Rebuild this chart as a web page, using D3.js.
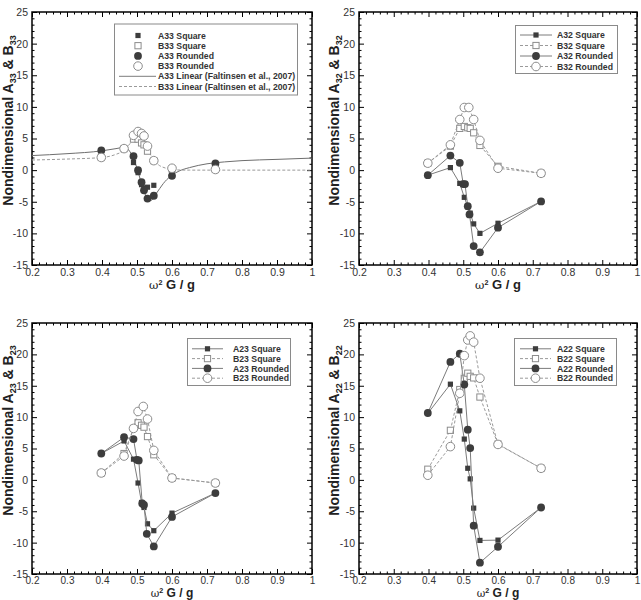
<!DOCTYPE html>
<html><head><meta charset="utf-8">
<script src="https://cdn.jsdelivr.net/npm/d3@7"></script>
<style>
html,body{margin:0;padding:0;background:#fff;}
svg{display:block;font-family:"Liberation Sans",Arial,Helvetica,sans-serif;}
</style></head>
<body>
<svg id="chart" width="641" height="600"></svg>
<script>
// ---------- DATA ----------
const xTicks = [0.2,0.3,0.4,0.5,0.6,0.7,0.8,0.9,1];
const xTickLabels = ["0.2","0.3","0.4","0.5","0.6","0.7","0.8","0.9","1"];
const yTicks = [-15,-10,-5,0,5,10,15,20,25];

const freq = [0.398,0.463,0.49,0.503,0.513,0.52,0.53,0.548,0.6,0.724];

// Panel 1: A33 / B33
const A33Square  = [3.0, 3.3, 1.2, -0.4, -2.3, -2.8, -2.7, -2.4, -0.7, 1.0];
const B33Square  = [2.0, 3.4, 4.9, 4.9, 4.3, 4.0, 3.0, 1.5, 0.2, 0.1];
const A33Rounded = [3.1, 3.4, 2.2, 0.0, -1.9, -3.2, -4.5, -4.05, -0.9, 1.05];
const B33Rounded = [2.0, 3.4, 5.5, 6.1, 5.8, 5.4, 3.8, 1.5, 0.3, 0.1];
const linA33x = [0.2,0.3,0.4,0.44,0.465,0.48,0.49,0.5,0.51,0.52,0.53,0.54,0.55,0.56,0.58,0.6,0.62,0.65,0.7,0.75,0.8,0.9,1.0];
const linA33y = [2.3,2.6,3.05,3.4,3.6,2.9,1.8,0.3,-1.6,-3.3,-4.6,-4.8,-4.1,-3.3,-1.8,-0.8,-0.15,0.4,1.0,1.3,1.5,1.7,1.9];
const linB33x = [0.2,0.3,0.4,0.44,0.465,0.48,0.49,0.5,0.51,0.52,0.53,0.54,0.55,0.56,0.58,0.6,0.62,0.65,0.7,0.8,0.9,1.0];
const linB33y = [1.6,1.75,2.0,2.5,3.2,4.2,4.9,5.4,5.3,4.6,3.4,2.3,1.5,0.9,0.35,0.1,0.02,0,0,0,0,0];

// Panel 2: A32 / B32
const A32Square  = [-0.8, 0.4, -2.1, -4.3, -5.8, -6.8, -8.5, -10.0, -8.4, -4.95];
const A32RoundedX = [0.398,0.463,0.49,0.5,0.505,0.513,0.518,0.53,0.548,0.6,0.724];
const A32Rounded = [-0.8, 2.3, 1.15, -2.2, -2.2, -5.7, -7.0, -12.0, -13.0, -9.1, -4.95];
const B32Square  = [1.1, 3.8, 6.6, 6.9, 6.7, 6.6, 5.9, 3.9, 0.6, -0.5];
const B32RoundedX = [0.398,0.463,0.49,0.503,0.516,0.53,0.548,0.6,0.724];
const B32Rounded = [1.1, 4.0, 8.0, 9.9, 9.9, 8.0, 4.7, 0.3, -0.5];

// Panel 3: A23 / B23
const A23Square  = [4.2, 6.2, 3.3, -0.5, -3.6, -4.4, -7.0, -8.1, -5.3, -2.1];
const A23RoundedX = [0.398,0.463,0.49,0.5,0.505,0.515,0.52,0.528,0.548,0.6,0.724];
const A23Rounded = [4.2, 6.8, 6.5, 3.2, 3.1, -3.75, -4.0, -8.6, -10.6, -5.9, -2.1];
const B23Square  = [1.1, 4.2, 8.2, 9.1, 8.7, 8.4, 6.9, 4.0, 0.3, -0.5];
const B23RoundedX = [0.398,0.463,0.49,0.503,0.518,0.53,0.548,0.6,0.724];
const B23Rounded = [1.1, 3.8, 8.2, 10.9, 11.7, 9.7, 4.7, 0.3, -0.5];

// Panel 4: A22 / B22
const A22Square  = [10.6, 15.25, 11.0, 6.5, 1.85, 0.16, -4.5, -9.65, -9.6, -4.4];
const A22Rounded = [10.66, 18.8, 20.1, 15.2, 8.0, 5.07, -7.3, -13.2, -10.66, -4.4];
const B22Square  = [1.7, 7.9, 14.4, 16.2, 17.0, 16.5, 16.25, 13.2, 5.7, 1.85];
const B22Rounded = [0.74, 5.3, 13.8, 19.8, 22.3, 22.95, 21.95, 16.2, 5.65, 1.85];

// ---------- STYLE ----------
const C_FILL = "#3d3d3d", C_LINE = "#7c7c7c", C_DASH = "#9a9a9a", C_OPEN = "#8c8c8c";

const svg = d3.select("#chart");

function zip(xs, ys){ return xs.map((x,i)=>({x:x,y:ys[i]})); }

function drawMarker(g, type, cx, cy){
  if(type==="sq"){
    g.append("rect").attr("x",cx-2.6).attr("y",cy-2.6).attr("width",5.2).attr("height",5.2).attr("fill",C_FILL);
  } else if(type==="osq"){
    g.append("rect").attr("x",cx-3.1).attr("y",cy-3.1).attr("width",6.2).attr("height",6.2)
      .attr("fill","#fff").attr("stroke",C_OPEN).attr("stroke-width",1);
  } else if(type==="c"){
    g.append("circle").attr("cx",cx).attr("cy",cy).attr("r",3.9).attr("fill",C_FILL);
  } else if(type==="oc"){
    g.append("circle").attr("cx",cx).attr("cy",cy).attr("r",4.3)
      .attr("fill","#fff").attr("stroke",C_OPEN).attr("stroke-width",1);
  }
}

function panel(cfg){
  const x = d3.scaleLinear().domain([0.2,1]).range([cfg.l,cfg.r]);
  const y = d3.scaleLinear().domain([-15,25]).range([cfg.b,cfg.t]);
  const g = svg.append("g");

  const xMinor = d3.range(0,41).map(i=>0.2+i*0.02).filter((v,i)=>i%5!==0);
  const yMinor = d3.range(0,41).map(i=>-15+i).filter((v,i)=>i%5!==0);

  const mk = (axis, tr, vals, size, fmt)=>{
    const a = g.append("g").attr("transform",tr)
      .call(axis.tickValues(vals).tickSize(size).tickFormat(fmt));
    a.select(".domain").remove();
    a.selectAll("line").attr("stroke","#000").attr("stroke-width",1);
    return a;
  };
  const none = ()=>"";
  const bx = mk(d3.axisBottom(x).tickPadding(cfg.xpad), `translate(0,${cfg.b})`, xTicks, -5, (d,i)=>xTickLabels[i]);
  bx.selectAll("text").attr("font-size",cfg.xtfs).attr("fill","#333").attr("font-family","'Liberation Sans',Arial,sans-serif");
  mk(d3.axisTop(x), `translate(0,${cfg.t})`, xTicks, -5, none);
  const ly = mk(d3.axisLeft(y).tickPadding(4), `translate(${cfg.l},0)`, yTicks, -5, d=>String(d));
  ly.selectAll("text").attr("font-size",10.5).attr("fill","#333").attr("font-family","'Liberation Sans',Arial,sans-serif");
  mk(d3.axisRight(y), `translate(${cfg.r},0)`, yTicks, -5, none);
  mk(d3.axisBottom(x), `translate(0,${cfg.b})`, xMinor, -2.5, none);
  mk(d3.axisTop(x), `translate(0,${cfg.t})`, xMinor, -2.5, none);
  mk(d3.axisLeft(y), `translate(${cfg.l},0)`, yMinor, -2.5, none);
  mk(d3.axisRight(y), `translate(${cfg.r},0)`, yMinor, -2.5, none);

  g.append("rect").attr("x",cfg.l).attr("y",cfg.t).attr("width",cfg.r-cfg.l).attr("height",cfg.b-cfg.t)
    .attr("fill","none").attr("stroke","#000").attr("stroke-width",1.5);

  const line = d3.line().x(d=>x(d.x)).y(d=>y(d.y));
  const smooth = d3.line().x(d=>x(d.x)).y(d=>y(d.y)).curve(d3.curveMonotoneX);

  (cfg.curves||[]).forEach(c=>{
    g.append("path").datum(zip(c.xs,c.ys)).attr("d",smooth).attr("fill","none")
      .attr("stroke",c.dash?C_DASH:"#6e6e6e").attr("stroke-width",1)
      .attr("stroke-dasharray",c.dash?"3,2":null);
  });

  cfg.series.forEach(s=>{
    const pts = zip(s.xs,s.ys);
    const sg = g.append("g");
    if(s.line){
      sg.append("path").datum(pts).attr("d",line).attr("fill","none")
        .attr("stroke",s.dash?C_DASH:C_LINE).attr("stroke-width",1)
        .attr("stroke-dasharray",s.dash?"3,2":null);
    }
    pts.forEach(p=>drawMarker(sg,s.m,x(p.x),y(p.y)));
  });

  const L = cfg.legend;
  g.append("rect").attr("x",L.x0).attr("y",L.y0).attr("width",L.x1-L.x0).attr("height",L.y1-L.y0)
    .attr("fill","#fff").attr("stroke","#8a8a8a").attr("stroke-width",1);
  L.rows.forEach((r,i)=>{
    const yy = L.ry + i*L.dy;
    if(r.line){
      g.append("line").attr("x1",L.lx0).attr("x2",L.lx1).attr("y1",yy).attr("y2",yy)
        .attr("stroke",r.dash?C_DASH:C_LINE).attr("stroke-width",1)
        .attr("stroke-dasharray",r.dash?"3,2":null);
    }
    if(r.m) drawMarker(g,r.m,L.mx,yy);
    g.append("text").attr("x",L.tx).attr("y",yy+3.1).attr("font-size",8.7).attr("font-weight","bold")
      .attr("fill","#333").text(r.label);
  });

  const yl = g.append("text").attr("transform",`translate(${cfg.ylx},${(cfg.t+cfg.b)/2-18}) rotate(-90)`)
    .attr("text-anchor","middle").attr("font-size",14).attr("font-weight","bold").attr("fill","#222");
  yl.append("tspan").text("Nondimensional A");
  yl.append("tspan").attr("font-size",9).attr("dy",3).text(cfg.sub);
  yl.append("tspan").attr("dy",-3).text(" & B");
  yl.append("tspan").attr("font-size",9).attr("dy",3).text(cfg.sub);

  const xl = g.append("text").attr("x",(cfg.l+cfg.r)/2).attr("y",cfg.xly)
    .attr("text-anchor","middle").attr("font-size",cfg.xlfs).attr("font-weight","bold").attr("fill","#222");
  xl.append("tspan").attr("font-weight","normal").attr("font-family","'DejaVu Serif',serif").attr("font-size",cfg.xlfs-1.5).text("ω");
  xl.append("tspan").attr("font-size",7.2).attr("dy",-4).text("2");
  xl.append("tspan").attr("dy",4).text(" G / g");
}

const leftA = {l:32, r:312}, rightA = {l:359, r:637};
const topA = {t:12, b:265, xly:289, xlfs:13, xpad:3.5, xtfs:10.5};
const botA = {t:323, b:574, xly:597, xlfs:12, xpad:2.5, xtfs:10};

panel(Object.assign({}, leftA, topA, {
  sub:"33", ylx:12.5,
  curves:[{xs:linA33x, ys:linA33y, dash:false},{xs:linB33x, ys:linB33y, dash:true}],
  series:[
    {xs:freq, ys:A33Square, m:"sq"},
    {xs:freq, ys:B33Square, m:"osq"},
    {xs:freq, ys:A33Rounded, m:"c"},
    {xs:freq, ys:B33Rounded, m:"oc"}
  ],
  legend:{x0:114.5,y0:24,x1:297.5,y1:95, ry:35.5, dy:10.2, lx0:119, lx1:156, mx:138, tx:158,
    rows:[
      {label:"A33 Square", m:"sq"},
      {label:"B33 Square", m:"osq"},
      {label:"A33 Rounded", m:"c"},
      {label:"B33 Rounded", m:"oc"},
      {label:"A33 Linear (Faltinsen et al., 2007)", line:true},
      {label:"B33 Linear (Faltinsen et al., 2007)", line:true, dash:true}
    ]}
}));

panel(Object.assign({}, rightA, topA, {
  sub:"32", ylx:339,
  series:[
    {xs:freq, ys:A32Square, m:"sq", line:true},
    {xs:freq, ys:B32Square, m:"osq", line:true, dash:true},
    {xs:A32RoundedX, ys:A32Rounded, m:"c", line:true},
    {xs:B32RoundedX, ys:B32Rounded, m:"oc", line:true, dash:true}
  ],
  legend:{x0:515.5,y0:25.5,x1:617.5,y1:73.5, ry:35, dy:10.5, lx0:520, lx1:552, mx:536, tx:557,
    rows:[
      {label:"A32 Square", m:"sq", line:true},
      {label:"B32 Square", m:"osq", line:true, dash:true},
      {label:"A32 Rounded", m:"c", line:true},
      {label:"B32 Rounded", m:"oc", line:true, dash:true}
    ]}
}));

panel(Object.assign({}, leftA, botA, {
  sub:"23", ylx:12.5,
  series:[
    {xs:freq, ys:A23Square, m:"sq", line:true},
    {xs:freq, ys:B23Square, m:"osq", line:true, dash:true},
    {xs:A23RoundedX, ys:A23Rounded, m:"c", line:true},
    {xs:B23RoundedX, ys:B23Rounded, m:"oc", line:true, dash:true}
  ],
  legend:{x0:187.5,y0:338.5,x1:290.5,y1:385.5, ry:348.8, dy:9.8, lx0:192, lx1:223, mx:207.5, tx:233,
    rows:[
      {label:"A23 Square", m:"sq", line:true},
      {label:"B23 Square", m:"osq", line:true, dash:true},
      {label:"A23 Rounded", m:"c", line:true},
      {label:"B23 Rounded", m:"oc", line:true, dash:true}
    ]}
}));

panel(Object.assign({}, rightA, botA, {
  sub:"22", ylx:339,
  series:[
    {xs:freq, ys:A22Square, m:"sq", line:true},
    {xs:freq, ys:B22Square, m:"osq", line:true, dash:true},
    {xs:freq, ys:A22Rounded, m:"c", line:true},
    {xs:freq, ys:B22Rounded, m:"oc", line:true, dash:true}
  ],
  legend:{x0:514.5,y0:338.5,x1:616.5,y1:385.5, ry:348.8, dy:9.8, lx0:520, lx1:551, mx:535.5, tx:557,
    rows:[
      {label:"A22 Square", m:"sq", line:true},
      {label:"B22 Square", m:"osq", line:true, dash:true},
      {label:"A22 Rounded", m:"c", line:true},
      {label:"B22 Rounded", m:"oc", line:true, dash:true}
    ]}
}));
</script>
</body></html>
